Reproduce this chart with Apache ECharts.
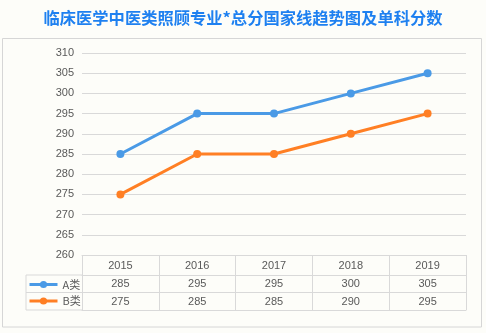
<!DOCTYPE html>
<html>
<head>
<meta charset="utf-8">
<script src="https://cdn.jsdelivr.net/npm/echarts@6/dist/echarts.min.js"></script>
<style>
  html, body { margin: 0; padding: 0; background: #fdfdf9; }
  #chart { width: 486px; height: 333px; }
</style>
</head>
<body>
<div id="chart"></div>
<script>
// Years and national cut-off scores for the two categories
const years = ['2015', '2016', '2017', '2018', '2019'];
const seriesA = [285, 295, 295, 300, 305];
const seriesB = [275, 285, 285, 290, 295];
const nameA = 'A类';
const nameB = 'B类';
const yTicks = { min: 260, max: 310, step: 5 };

const titleText = '临床医学中医类照顾专业*总分国家线趋势图及单科分数';
const blue = '#4a9ae6';
const orange = '#ff7f24';
const textGray = '#595959';
const lineGray = '#d9d9d9';

const chart = echarts.init(document.getElementById('chart'), null, { renderer: 'canvas' });

const gridLeft = 82, gridRight = 20, gridTop = 53, gridBottom = 78;
const rowH1 = 20, rowH2 = 17.5, rowH3 = 17.5;

const tableAxisLabel = { color: textGray, fontSize: 11, fontFamily: 'Liberation Sans, Arial, sans-serif', margin: 4 };

chart.setOption({
  backgroundColor: '#fdfdf9',
  animation: false,
  title: {
    text: titleText,
    left: 'center',
    top: 5,
    textStyle: { color: '#1e80f0', fontSize: 16.3, fontWeight: 'bold', fontFamily: 'Noto Sans CJK SC' }
  },
  legend: {
    orient: 'vertical',
    left: 28,
    top: 277.5,
    padding: 0,
    itemWidth: 28,
    itemHeight: 9,
    itemGap: 2.5,
    lineStyle: { width: 3 },
    textStyle: { color: textGray, fontSize: 11, lineHeight: 14, fontFamily: 'Noto Sans CJK SC', padding: [0, 0, 0, 0] },
    data: [nameA, nameB]
  },
  grid: { left: gridLeft, right: gridRight, top: gridTop, bottom: gridBottom },
  xAxis: [
    {
      type: 'category',
      data: years,
      boundaryGap: true,
      position: 'bottom',
      axisLine: { show: true, lineStyle: { color: lineGray } },
      axisTick: { show: true, length: rowH1 + rowH2 + rowH3, lineStyle: { color: lineGray } },
      axisLabel: Object.assign({}, tableAxisLabel, { margin: 5 })
    },
    {
      type: 'category',
      data: seriesA.map(String),
      position: 'bottom',
      offset: rowH1,
      axisLine: { show: true, lineStyle: { color: lineGray } },
      axisTick: { show: false },
      axisLabel: Object.assign({}, tableAxisLabel, { margin: 3.5 })
    },
    {
      type: 'category',
      data: seriesB.map(String),
      position: 'bottom',
      offset: rowH1 + rowH2,
      axisLine: { show: true, lineStyle: { color: lineGray } },
      axisTick: { show: false },
      axisLabel: Object.assign({}, tableAxisLabel, { margin: 3.5 })
    },
    {
      type: 'category',
      data: years,
      position: 'bottom',
      offset: rowH1 + rowH2 + rowH3,
      axisLine: { show: true, lineStyle: { color: lineGray } },
      axisTick: { show: false },
      axisLabel: { show: false }
    }
  ],
  yAxis: {
    type: 'value',
    min: yTicks.min,
    max: yTicks.max,
    interval: yTicks.step,
    axisLine: { show: false },
    axisTick: { show: false },
    axisLabel: { color: textGray, fontSize: 11, fontFamily: 'Liberation Sans, Arial, sans-serif', margin: 8 },
    splitLine: { lineStyle: { color: lineGray, width: 1 } }
  },
  series: [
    {
      name: nameA,
      type: 'line',
      data: seriesA,
      symbol: 'circle',
      symbolSize: 8,
      color: blue,
      lineStyle: { width: 3, color: blue },
      itemStyle: { color: blue }
    },
    {
      name: nameB,
      type: 'line',
      data: seriesB,
      symbol: 'circle',
      symbolSize: 8,
      color: orange,
      lineStyle: { width: 3, color: orange },
      itemStyle: { color: orange }
    }
  ],
  graphic: (function () {
    // Outer frame of the chart and the legend column of the data table
    const tableTop = 333 - gridBottom;
    const r1 = tableTop + rowH1, r2 = r1 + rowH2, r3 = r2 + rowH3;
    const legendLeft = 26;
    const style = { stroke: lineGray, lineWidth: 1 };
    return [
      { type: 'rect', shape: { x: 2.5, y: 38.5, width: 479, height: 288.5 }, style: { fill: null, stroke: '#d6d6d6', lineWidth: 1 }, silent: true },
      { type: 'line', shape: { x1: legendLeft, y1: r1, x2: gridLeft, y2: r1 }, style: style, silent: true },
      { type: 'line', shape: { x1: legendLeft, y1: r2, x2: gridLeft, y2: r2 }, style: style, silent: true },
      { type: 'line', shape: { x1: legendLeft, y1: r3, x2: gridLeft, y2: r3 }, style: style, silent: true },
      { type: 'line', shape: { x1: legendLeft, y1: r1, x2: legendLeft, y2: r3 }, style: style, silent: true }
    ];
  })()
});
</script>
</body>
</html>
